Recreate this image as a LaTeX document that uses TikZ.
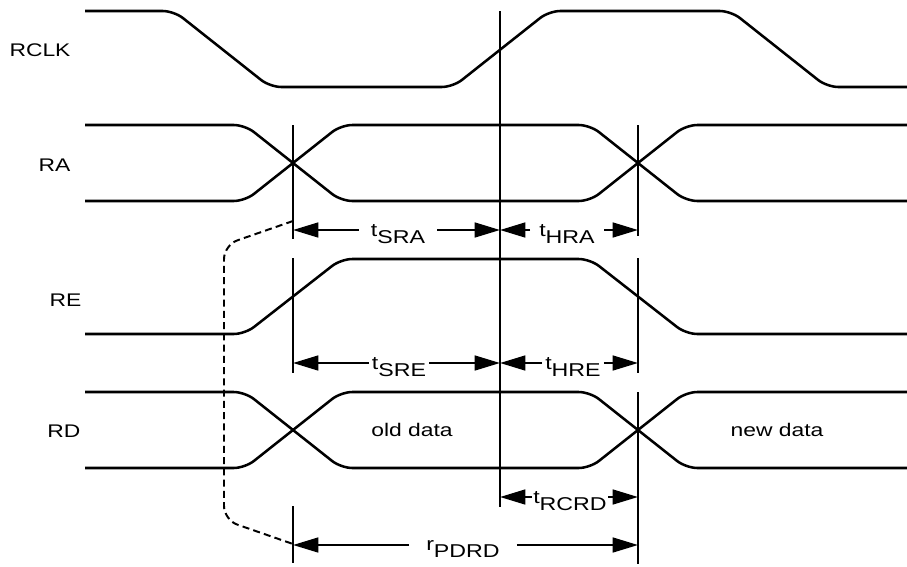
\documentclass[tikz,border=0pt]{standalone}
\usepackage{fontspec}
\setmainfont{Liberation Sans}[FakeStretch=1.25]
\usetikzlibrary{arrows.meta}

\newcommand{\tsub}[2]{#1\raisebox{-5.3pt}{#2}}

\tikzset{
  sig/.style={line width=1.8pt, rounded corners=8pt},
  vbar/.style={line width=2pt},
  dimarr/.style={line width=1.6pt, -{Triangle[length=18pt,width=10.5pt]}},
  signame/.style={font=\fontsize{13}{15}\selectfont, anchor=base, inner sep=0pt},
  tlabel/.style={font=\fontsize{13.2}{15}\selectfont, anchor=base, inner ysep=0pt},
}

\begin{document}
\begin{tikzpicture}[x=0.025cm,y=-0.025cm]
\useasboundingbox (0,0) rectangle (907,566);

\pgfmathsetmacro{\xa}{293}
\pgfmathsetmacro{\xc}{500}
\pgfmathsetmacro{\xb}{638}

% signal names
\node[signame] (rclk) at (40,56) {RCLK};
\node[signame] (ra) at (54.5,171) {RA};
\node[signame] (re) at (65.5,306.5) {RE};
\node[signame] (rd) at (64,437.5) {RD};

% waveforms
\draw[sig] (85,11) -- (174,11) -- (270,87) -- (453,87) -- (549,11) -- (731,11) -- (827,87) -- (907,87);

\draw[sig] (85,125) -- (245,125) -- (341,201) -- (590,201) -- (686,125) -- (907,125);
\draw[sig] (85,201) -- (245,201) -- (341,125) -- (590,125) -- (686,201) -- (907,201);

\draw[sig] (85,334) -- (245,334) -- (341,259) -- (590,259) -- (686,334) -- (907,334);

\draw[sig] (85,392) -- (245,392) -- (341,468) -- (590,468) -- (686,392) -- (907,392);
\draw[sig] (85,468) -- (245,468) -- (341,392) -- (590,392) -- (686,468) -- (907,468);

\node[signame] (old) at (412,436) {old data};
\node[signame] (new) at (777,436) {new data};

% reference lines
\draw[vbar] (\xa,125) -- (\xa,239);
\draw[vbar] (\xa,258) -- (\xa,373);
\draw[vbar] (\xa,506) -- (\xa,563);
\draw[vbar] (\xc,11) -- (\xc,507);
\draw[vbar] (\xb,125) -- (\xb,236);
\draw[vbar] (\xb,258) -- (\xb,373);
\draw[vbar] (\xb,392) -- (\xb,564);

% timings
\coordinate (sra-l) at (\xa,230);
\coordinate (sra-r) at (\xc,230);
\coordinate (hra-r) at (\xb,230);
\coordinate (sre-l) at (\xa,363);
\coordinate (sre-r) at (\xc,363);
\coordinate (hre-r) at (\xb,363);
\coordinate (rcrd-l) at (\xc,497);
\coordinate (rcrd-r) at (\xb,497);
\coordinate (pdrd-l) at (\xa,545);
\coordinate (pdrd-r) at (\xb,545);

\node[tlabel, inner xsep=8.5pt] (sra) at (398,236) {\tsub{t}{SRA}};
\draw[dimarr] (sra.west |- sra-l) -- (sra-l);
\draw[dimarr] (sra.east |- sra-r) -- (sra-r);

\node[tlabel, inner xsep=6.4pt] (hra) at (567,236) {\tsub{t}{HRA}};
\draw[dimarr] (hra.west |- sra-r) -- (sra-r);
\draw[dimarr] (hra.east |- hra-r) -- (hra-r);

\node[tlabel, inner xsep=2pt] (sre) at (399,369) {\tsub{t}{SRE}};
\draw[dimarr] (sre.west |- sre-l) -- (sre-l);
\draw[dimarr] (sre.east |- sre-r) -- (sre-r);

\node[tlabel, inner xsep=2pt] (hre) at (573,369) {\tsub{t}{HRE}};
\draw[dimarr] (hre.west |- sre-r) -- (sre-r);
\draw[dimarr] (hre.east |- hre-r) -- (hre-r);

\node[tlabel, inner xsep=0.7pt] (rcrd) at (570,503) {\tsub{t}{RCRD}};
\draw[dimarr] (rcrd.west |- rcrd-l) -- (rcrd-l);
\draw[dimarr] (rcrd.east |- rcrd-r) -- (rcrd-r);

\node[tlabel, inner xsep=12pt] (pdrd) at (463,550) {\tsub{r}{PDRD}};
\draw[dimarr] (pdrd.west |- pdrd-l) -- (pdrd-l);
\draw[dimarr] (pdrd.east |- pdrd-r) -- (pdrd-r);

% dashed link
\coordinate (d1) at (\xa,221);
\coordinate (d2) at (\xa,544);
\draw[line width=1.4pt, dash pattern=on 5pt off 3pt, rounded corners=10pt] (d1) -- (224,245) -- (224,520) -- (d2);

\end{tikzpicture}
\end{document}
